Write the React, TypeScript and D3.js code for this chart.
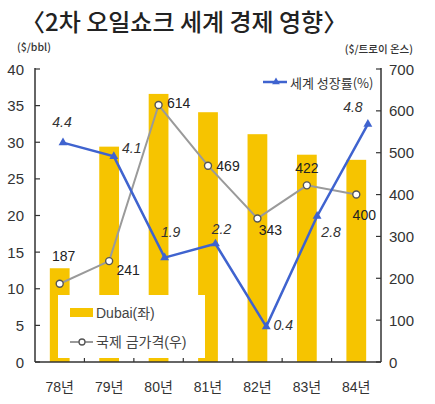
import React from "react";
import * as d3 from "d3";

const categories = ["78년", "79년", "80년", "81년", "82년", "83년", "84년"];
const dubaiPrice = [12.8, 29.4, 36.6, 34.1, 31.1, 28.3, 27.6];
const goldPrice = [187, 241, 614, 469, 343, 422, 400];
const worldGrowth = [4.4, 4.1, 1.9, 2.2, 0.4, 2.8, 4.8];
const leftTicks = [0, 5, 10, 15, 20, 25, 30, 35, 40];
const rightTicks = [0, 100, 200, 300, 400, 500, 600, 700];

// label offsets (layout only)
const goldLabelOffsets: [number, number][] = [[4, -28], [19, 9], [20, -2], [20, 0], [13, 12], [0, -17], [8, 20]];
const growthLabelOffsets: [number, number][] = [[-1, -21], [18, -8], [6, -26], [6, -15], [17, -2], [14, 16], [-15, -17]];

const W = 435, H = 404;
const L = 35, R = 381, T = 69, B = 362;
const FONT = "'Liberation Sans', 'Noto Sans CJK KR', sans-serif";
const KFONT = "'Noto Sans CJK KR', 'Liberation Sans', sans-serif";
const BAR = "#f6c400";
const BLUE = "#3f63cf";
const GRAY = "#9a9a9a";
const AXIS = "#333";

export default function App() {
  const x = d3.scaleBand<string>().domain(categories).range([L, R]).paddingInner(0.6).paddingOuter(0.3);
  const xStep = d3.scaleBand<string>().domain(categories).range([L, R]);
  const xGrowth = d3.scaleBand<string>().domain(categories).range([37.6, 393.3]).paddingInner(0.6).paddingOuter(0.3);
  const yL = d3.scaleLinear().domain([0, 40]).range([B, T]);
  const yR = d3.scaleLinear().domain([0, 700]).range([B, T]);
  const yG = d3.scaleLinear().domain([-0.37, 6.0]).range([B, T]);

  const cx = (c: string) => (x(c) as number) + x.bandwidth() / 2;
  const gx = (c: string) => (xGrowth(c) as number) + xGrowth.bandwidth() / 2;

  const goldPts: [number, number][] = categories.map((c, i) => [cx(c), yR(goldPrice[i])]);
  const growthPts: [number, number][] = categories.map((c, i) => [gx(c), yG(worldGrowth[i])]);
  const line = d3.line();
  const tri = d3.symbol().type(d3.symbolTriangle).size(34)() as string;
  const triSmall = d3.symbol().type(d3.symbolTriangle).size(26)() as string;

  return (
    <svg width={W} height={H} style={{ position: "absolute", left: 0, top: 0, background: "#fff" }}>
      <rect x={0} y={0} width={W} height={H} fill="#fff" />
      {/* title */}
      <text x={21} y={31} fontFamily={KFONT} fontSize={24} fontWeight={500} fill="#222">
        〈2차 오일쇼크 세계 경제 영향〉
      </text>
      <text x={17} y={51} fontFamily={KFONT} fontSize={10.5} fontWeight={500} fill="#333">($/bbl)</text>
      <text x={413} y={53} textAnchor="end" fontFamily={KFONT} fontSize={10.5} fontWeight={500} fill="#333">($/트로이 온스)</text>

      {/* bars */}
      {categories.map((c, i) => (
        <rect key={c} x={x(c)} y={yL(dubaiPrice[i])} width={x.bandwidth()} height={B - yL(dubaiPrice[i])} fill={BAR} />
      ))}

      {/* legend box bottom-left */}
      <rect x={58} y={295} width={147} height={63} fill="#fff" />
      <rect x={70} y={308} width={23} height={9} fill={BAR} />
      <text x={96} y={313} dominantBaseline="central" fontFamily={FONT} fontSize={14} fill="#444">Dubai(좌)</text>
      <line x1={70} x2={93} y1={342} y2={342} stroke={GRAY} strokeWidth={2} />
      <circle cx={82} cy={342} r={3} fill="#fff" stroke="#555" strokeWidth={1.3} />
      <text x={96} y={342} dominantBaseline="central" fontFamily={FONT} fontSize={14} fill="#444">국제 금가격(우)</text>

      {/* axes */}
      <line x1={L} x2={L} y1={T - 1} y2={B} stroke={AXIS} strokeWidth={1.5} />
      <line x1={R} x2={R} y1={T - 1} y2={B} stroke={AXIS} strokeWidth={1.5} />
      <line x1={L} x2={R} y1={B} y2={B} stroke={AXIS} strokeWidth={1.5} />
      {leftTicks.map((t) => (
        <g key={"l" + t}>
          <line x1={L} x2={L + 5} y1={yL(t)} y2={yL(t)} stroke={AXIS} strokeWidth={1.2} />
          <text x={24} y={yL(t)} textAnchor="end" dominantBaseline="central" fontFamily={FONT} fontSize={15} fill="#333">{t}</text>
        </g>
      ))}
      {rightTicks.map((t) => (
        <g key={"r" + t}>
          <line x1={R - 5} x2={R} y1={yR(t)} y2={yR(t)} stroke={AXIS} strokeWidth={1.2} />
          <text x={389} y={yR(t)} dominantBaseline="central" fontFamily={FONT} fontSize={15} fill="#333">{t}</text>
        </g>
      ))}
      {categories.slice(1).map((c) => (
        <line key={"t" + c} x1={xStep(c)} x2={xStep(c)} y1={B - 4} y2={B} stroke={AXIS} strokeWidth={1.2} />
      ))}
      {categories.map((c) => (
        <text key={"x" + c} x={cx(c)} y={387} textAnchor="middle" dominantBaseline="central" fontFamily={FONT} fontSize={14} fill="#333">{c}</text>
      ))}

      {/* gold line */}
      <path d={line(goldPts) as string} fill="none" stroke={GRAY} strokeWidth={2} />
      {goldPts.map((p, i) => (
        <circle key={"g" + i} cx={p[0]} cy={p[1]} r={3.5} fill="#fff" stroke="#555" strokeWidth={1.4} />
      ))}
      {goldPts.map((p, i) => (
        <text key={"gl" + i} x={p[0] + goldLabelOffsets[i][0]} y={p[1] + goldLabelOffsets[i][1]} textAnchor="middle" dominantBaseline="central" fontFamily={FONT} fontSize={14} fill="#222">{goldPrice[i]}</text>
      ))}

      {/* growth line */}
      <path d={line(growthPts) as string} fill="none" stroke={BLUE} strokeWidth={2.5} />
      {growthPts.map((p, i) => (
        <path key={"b" + i} d={tri} transform={`translate(${p[0]},${p[1]})`} fill={BLUE} />
      ))}
      {growthPts.map((p, i) => (
        <text key={"bl" + i} x={p[0] + growthLabelOffsets[i][0]} y={p[1] + growthLabelOffsets[i][1]} textAnchor="middle" dominantBaseline="central" fontFamily={FONT} fontStyle="italic" fontSize={14} fill="#333">{worldGrowth[i].toFixed(1)}</text>
      ))}

      {/* legend top-right */}
      <line x1={263} x2={287} y1={82} y2={82} stroke={BLUE} strokeWidth={2.5} />
      <path d={triSmall} transform="translate(276,82)" fill={BLUE} />
      <text x={290} y={82} dominantBaseline="central" fontFamily={KFONT} fontSize={13} fill="#333">세계 성장률(%)</text>
    </svg>
  );
}
